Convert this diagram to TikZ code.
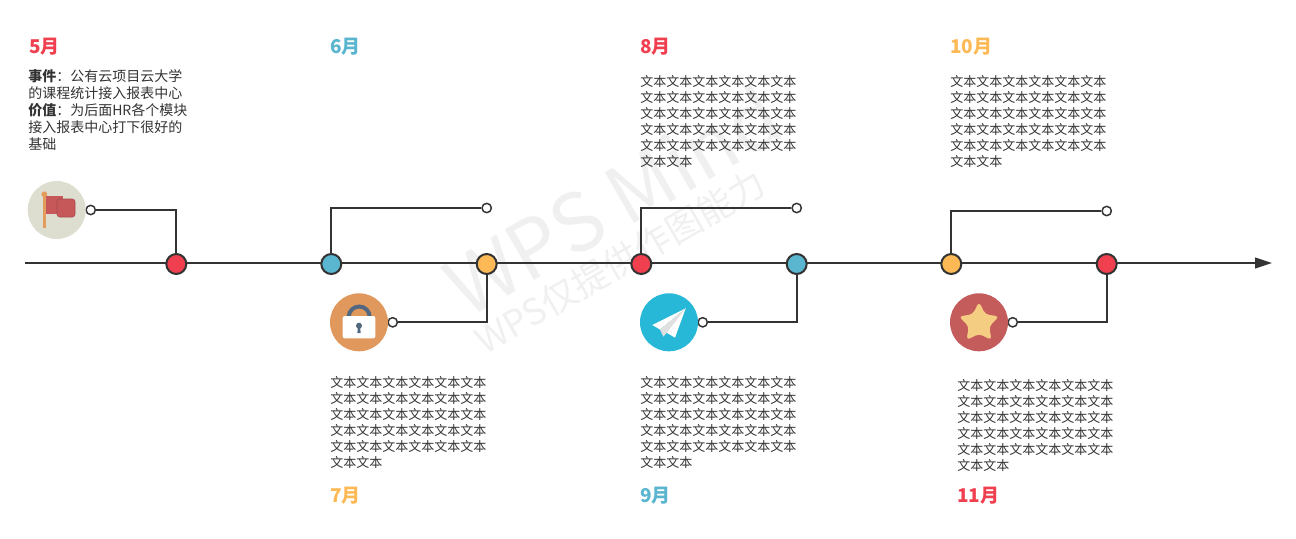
\documentclass[tikz,border=0pt]{standalone}
\usepackage{fontspec}
\setmainfont{Noto Sans CJK SC}
\usetikzlibrary{arrows.meta,shapes.geometric}
\definecolor{cred}{HTML}{F0404F}
\definecolor{cblue}{HTML}{5AB5CF}
\definecolor{corange}{HTML}{FDB955}
\definecolor{cline}{HTML}{333333}
\definecolor{cmark}{HTML}{F0F0F0}
\definecolor{cflag}{HTML}{C6585A}
\definecolor{cpole}{HTML}{E29C5C}
\definecolor{clock}{HTML}{526880}
\tikzstyle{dot}=[draw=cline,circle,line width=1.5pt,minimum size=15pt,inner sep=0pt]
\tikzstyle{tip}=[draw=cline,fill=white,circle,line width=1.1pt,minimum size=7pt,inner sep=0pt]
\tikzstyle{icon}=[circle,minimum size=43.5pt,inner sep=0pt]
\tikzstyle{ed}=[draw=cline,line width=1.5pt]
\tikzstyle{month}=[anchor=west,inner sep=0pt,font=\fontsize{14.25pt}{16pt}\selectfont\bfseries]
\tikzstyle{body}=[anchor=north west,inner sep=0pt,align=left,text=cline,font=\fontsize{9.75pt}{12pt}\selectfont]
\newcommand{\wenben}{文本文本文本文本文本文本\\文本文本文本文本文本文本\\文本文本文本文本文本文本\\文本文本文本文本文本文本\\文本文本文本文本文本文本\\文本文本}
\begin{document}
\begin{tikzpicture}[x=0.75pt,y=-0.75pt]
  \useasboundingbox (0,0) rectangle (1296,539);
  % watermark
  \node[text=cmark,rotate=30,font=\fontsize{60pt}{60pt}\selectfont] (mark1) at (612,200) {WPS Mind};
  \node[text=cmark,rotate=30,font=\fontsize{27pt}{27pt}\selectfont] (mark2) at (620,262) {WPS仅提供作图能力};

  \coordinate (start) at (25,263);
  \coordinate (end) at (1272,263);
  \draw[ed,-{Triangle[length=12.75pt,width=8pt]}] (start) -- (end);

  \node[dot,fill=cred] (may) at (176.3,264) {};
  \node[dot,fill=cblue] (jun) at (331.3,264) {};
  \node[dot,fill=corange] (jul) at (486.7,264) {};
  \node[dot,fill=cred] (aug) at (641.3,264) {};
  \node[dot,fill=cblue] (sep) at (796.7,264) {};
  \node[dot,fill=corange] (oct) at (951.3,264) {};
  \node[dot,fill=cred] (nov) at (1106.7,264) {};

  \node[tip] (maytip) at (90.7,210) {};
  \node[tip] (juntip) at (486.7,208) {};
  \node[tip] (jultip) at (392.7,322.3) {};
  \node[tip] (augtip) at (796.7,208) {};
  \node[tip] (septip) at (702.7,322.3) {};
  \node[tip] (octtip) at (1106.7,211) {};
  \node[tip] (novtip) at (1012.7,322.3) {};

  \draw[ed] (maytip) -| (may);
  \draw[ed] (juntip) -| (jun);
  \draw[ed] (jultip) -| (jul);
  \draw[ed] (augtip) -| (aug);
  \draw[ed] (septip) -| (sep);
  \draw[ed] (octtip) -| (oct);
  \draw[ed] (novtip) -| (nov);

  % icons
  \node[icon,fill={rgb,255:red,222;green,222;blue,208}] (flag) at (56.7,210) {};
  \fill[cpole] (42.5,194) rectangle (46,228);
  \fill[cpole] (44.3,194.3) circle[radius=2.9];
  \fill[cflag] (46,195.7) rectangle (63,214);
  \fill[cflag,rounded corners=2pt,draw=cflag!85!black] (57,199) rectangle (75,217);

  \node[icon,fill={rgb,255:red,224;green,152;blue,92}] (lock) at (359,322.3) {};
  \draw[line width=3pt,clock] (348.7,317) arc[start angle=180,end angle=360,radius=10.5];
  \fill[white,rounded corners=1.5pt] (342.7,316) rectangle (375.3,338.3);
  \fill[clock] (359,325.7) circle[radius=3];
  \fill[clock] (357.8,326) -- (360.2,326) -- (360.6,333) -- (357.4,333) -- cycle;

  \node[icon,fill={rgb,255:red,39;green,184;blue,216}] (plane) at (669,322.3) {};
  \fill[white] (685.7,308.3) -- (652.3,325) -- (660,329.5) -- cycle;
  \fill[white] (685.7,308.3) -- (662.3,330) -- (675,337.7) -- cycle;
  \fill[black!12] (685.7,308.3) -- (660,329.5) -- (663.3,336.7) -- (667,332.5) -- cycle;

  \node[icon,fill={rgb,255:red,196;green,92;blue,92}] (starbg) at (979,322.3) {};
  \node[star,star points=5,star point ratio=2,minimum size=32pt,inner sep=0pt,rounded corners=3pt,fill={rgb,255:red,245;green,205;blue,130}] (starfg) at (979,323) {};

  % months
  \node[month,text=cred] (l5) at (29,47) {5月};
  \node[month,text=cblue] (l6) at (330,47) {6月};
  \node[month,text=corange] (l7) at (330,496) {7月};
  \node[month,text=cred] (l8) at (640,47) {8月};
  \node[month,text=cblue] (l9) at (640,496) {9月};
  \node[month,text=corange] (l10) at (950,47) {10月};
  \node[month,text=cred] (l11) at (957,496) {11月};

  % texts
  \node[body,font=\fontsize{10.5pt}{12.75pt}\selectfont] (t5) at (28,69) {\textbf{事件}：公有云项目云大学\\的课程统计接入报表中心\\\textbf{价值}：为后面HR各个模块\\接入报表中心打下很好的\\基础};
  \node[body] (t8) at (640,75) {\wenben};
  \node[body] (t10) at (950,75) {\wenben};
  \node[body] (t7) at (330,376) {\wenben};
  \node[body] (t9) at (640,376) {\wenben};
  \node[body] (t11) at (957,379) {\wenben};
\end{tikzpicture}
\end{document}
